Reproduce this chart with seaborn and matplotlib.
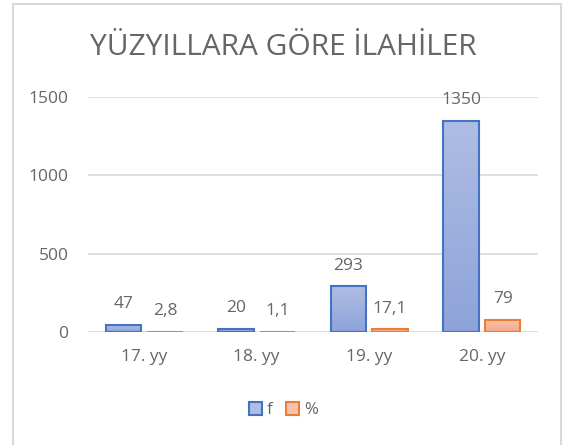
import matplotlib
matplotlib.use("Agg")
import matplotlib.pyplot as plt
from matplotlib.colors import LinearSegmentedColormap
from matplotlib.patches import Rectangle, Patch
import numpy as np
import pandas as pd
import seaborn as sns

# ---------------------------------------------------------
# data
centuries = ["17. yy", "18. yy", "19. yy", "20. yy"]
f_values = [47, 20, 293, 1350]
pct_values = [2.8, 1.1, 17.1, 79]
series_names = ["f", "%"]
y_ticks = [0, 500, 1000, 1500]

title = "YÜZYILLARA GÖRE İLAHİLER"

sns.set_theme(style="white")
plt.rcParams["font.family"] = ["Open Sans", "DejaVu Sans"]

TEXT = "#666666"
GRID = "#d9d9d9"
edge_colors = {"f": "#4472c4", "%": "#ed7d31"}
top_colors = {"f": "#aebde3", "%": "#f7c3ae"}
bottom_colors = {"f": "#8ea3da", "%": "#f3a888"}

df = pd.DataFrame({
    "Century": centuries * 2,
    "Series": ["f"] * len(centuries) + ["%"] * len(centuries),
    "Value": f_values + pct_values,
})

fig = plt.figure(figsize=(5.67, 4.45), dpi=100)
ax = fig.add_axes([0.155, 0.254, 0.794, 0.528])

sns.barplot(
    data=df,
    x="Century",
    y="Value",
    hue="Series",
    hue_order=series_names,
    palette={k: top_colors[k] for k in series_names},
    width=0.74,
    gap=0.15,
    edgecolor="none",
    legend=False,
    ax=ax,
)

# gradient fill + outline on every bar
for container, name in zip(ax.containers, series_names):
    cmap = LinearSegmentedColormap.from_list(
        name, [top_colors[name], bottom_colors[name]]
    )
    for bar, v in zip(container, df.loc[df["Series"] == name, "Value"]):
        x0, w, h = bar.get_x(), bar.get_width(), bar.get_height()
        bar.set_facecolor("none")
        img = ax.imshow(
            np.linspace(0, 1, 64).reshape(-1, 1),
            cmap=cmap,
            extent=(x0, x0 + w, 0, h),
            aspect="auto",
            origin="upper",
            zorder=2,
        )
        img.set_clip_path(bar)
        ax.add_patch(Rectangle(
            (x0, 0), w, h, facecolor="none",
            edgecolor=edge_colors[name], linewidth=1.5, zorder=3,
        ))
        label = f"{v:g}".replace(".", ",")
        ax.annotate(
            label, (x0 + w / 2, h), xytext=(0, 9),
            textcoords="offset points", ha="center", va="bottom",
            fontsize=12.5, color=TEXT, annotation_clip=False,
        )

ax.set_xlim(-0.5, len(centuries) - 0.5)
ax.set_ylim(0, 1500)

ax.set_yticks(y_ticks)
ax.yaxis.grid(True, color=GRID, linewidth=1.2)
ax.set_axisbelow(True)
for s in ax.spines.values():
    s.set_visible(False)
ax.tick_params(axis="both", length=0, labelsize=12.5, labelcolor=TEXT)
ax.tick_params(axis="y", pad=14)
ax.tick_params(axis="x", pad=12)
ax.set_xlabel("")
ax.set_ylabel("")

fig.text(0.5, 0.893, title, ha="center", va="center",
         fontsize=21.5, color=TEXT)

handles = [
    Patch(facecolor=top_colors[k], edgecolor=edge_colors[k], linewidth=1.5,
          label=k)
    for k in series_names
]
fig.legend(
    handles=handles, loc="center", bbox_to_anchor=(0.5, 0.078), ncol=2,
    frameon=False, fontsize=12, labelcolor=TEXT, handlelength=0.8,
    handleheight=0.8, handletextpad=0.3, columnspacing=0.8,
)

# chart frame
fig.patches.append(Rectangle(
    (13 / 567, -0.05), 548 / 567, 1 - 4 / 445 + 0.05,
    transform=fig.transFigure, facecolor="none",
    edgecolor="#d9d9d9", linewidth=1.5,
))

fig.savefig("out.png", dpi=100)
